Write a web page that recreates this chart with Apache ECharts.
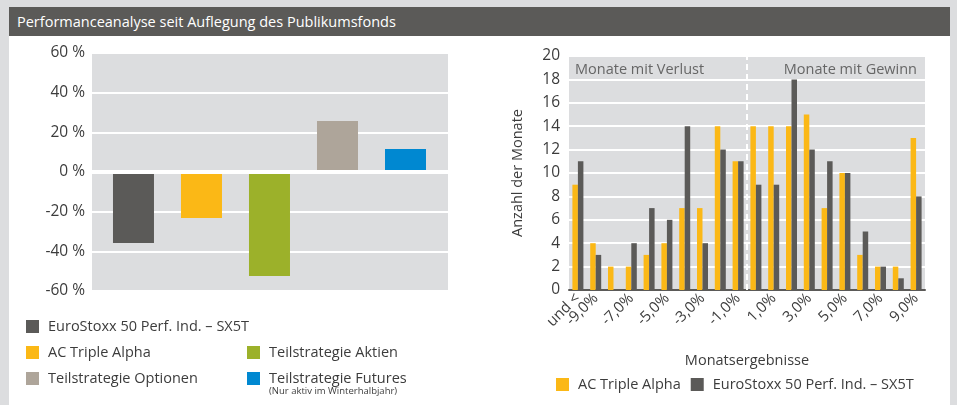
<!DOCTYPE html>
<html>
<head>
<meta charset="utf-8">
<script src="https://cdn.jsdelivr.net/npm/echarts@6/dist/echarts.min.js"></script>
<style>
  body { margin: 0; background: #dcdddf; font-family: "Open Sans", sans-serif; }
  #frame { position: absolute; left: 9px; top: 7px; width: 941px; height: 398px; background: #fff; }
  #kopf { position: absolute; left: 0; top: 0; width: 941px; height: 29px; background: #5b5a58;
          color: #fff; font-size: 14.5px; line-height: 29px; padding-left: 8px; box-sizing: border-box; }
  #chart { position: absolute; left: 0; top: 0; width: 957px; height: 405px; }
</style>
</head>
<body>
<div id="frame"><div id="kopf">Performanceanalyse seit Auflegung des Publikumsfonds</div></div>
<div id="chart"></div>
<script>
// --- Linkes Diagramm: Performance seit Auflegung (in %) ---
const perfNamen = [
    "EuroStoxx 50 Perf. Ind. – SX5T",
    "AC Triple Alpha",
    "Teilstrategie Aktien",
    "Teilstrategie Optionen",
    "Teilstrategie Futures"
];
const perfWerte = [-35.8, -23.2, -52.4, 25.7, 11.6];
const perfFarben = ["#5b5a58", "#fbb816", "#9cb12a", "#aea59a", "#0088d1"];

// --- Rechtes Diagramm: Verteilung der Monatsergebnisse ---
const monatsKlassen = [
    "und <", "-9,0%", "-8,0%", "-7,0%", "-6,0%", "-5,0%", "-4,0%", "-3,0%", "-2,0%", "-1,0%",
    "0,0%", "1,0%", "2,0%", "3,0%", "4,0%", "5,0%", "6,0%", "7,0%", "8,0%", "9,0%"
];
const monateFonds = [9, 4, 2, 2, 3, 4, 7, 7, 14, 11, 14, 14, 14, 15, 7, 10, 3, 2, 2, 13];
const monateIndex = [11, 3, 0, 4, 7, 6, 14, 4, 12, 11, 9, 9, 18, 12, 11, 10, 5, 2, 1, 8];

const schrift = "Open Sans";
const textFarbe = "#3c3c3c";

var myChart = echarts.init(document.getElementById("chart"));

// Balken links: jede Reihe an eigener Position, alle übereinander (barGap -100%)
const perfSerien = perfNamen.map((name, i) => ({
    name: name,
    type: "bar",
    xAxisIndex: 0,
    yAxisIndex: 0,
    barWidth: 41,
    barGap: "-100%",
    itemStyle: { color: perfFarben[i] },
    data: [[i, perfWerte[i]]]
}));
// weiße Nulllinie über den Balken
perfSerien[perfSerien.length - 1].markLine = {
    silent: true,
    symbol: "none",
    label: { show: false },
    lineStyle: { color: "#ffffff", width: 4, type: "solid" },
    data: [{ yAxis: 0 }]
};

const legendeBasis = {
    padding: 0,
    itemWidth: 13,
    itemHeight: 13,
    icon: "rect",
    selectedMode: false,
    textStyle: { fontSize: 14.5, color: textFarbe, padding: [0, 0, 0, 4] }
};

myChart.setOption({
    animation: false,
    textStyle: { fontFamily: schrift },
    grid: [
        { left: 92, top: 53, width: 356, height: 238, show: true, backgroundColor: "#dcdddf", borderWidth: 0 },
        { left: 569, top: 56, width: 356, height: 234, show: true, backgroundColor: "#dcdddf", borderWidth: 0 }
    ],
    xAxis: [
        { gridIndex: 0, type: "value", min: -0.61, max: 4.625, show: false },
        {
            gridIndex: 1,
            type: "category",
            data: monatsKlassen,
            axisLine: { lineStyle: { color: "#5b5a58", width: 2 } },
            axisTick: { show: false },
            axisLabel: {
                rotate: 45,
                fontSize: 15,
                color: textFarbe,
                margin: 6,
                interval: 0,
                // nur "und <" und jede zweite Klasse beschriften
                formatter: (v, i) => (i === 0 || i % 2 === 1) ? v : ""
            },
            name: "Monatsergebnisse",
            nameLocation: "middle",
            nameGap: 63,
            nameTextStyle: { fontSize: 14.5, color: textFarbe }
        },
        { gridIndex: 1, type: "value", min: 0, max: 20, show: false }
    ],
    yAxis: [
        {
            gridIndex: 0,
            type: "value",
            min: -60,
            max: 60,
            interval: 20,
            axisLine: { show: false },
            axisTick: { show: false },
            axisLabel: { formatter: "{value} %", fontSize: 15.5, color: textFarbe, margin: 7 },
            splitLine: { lineStyle: { color: "#ffffff", width: 2 } }
        },
        {
            gridIndex: 1,
            type: "value",
            min: 0,
            max: 20,
            interval: 2,
            axisLine: { show: false },
            axisTick: { show: false },
            axisLabel: { fontSize: 15.5, color: textFarbe, margin: 9 },
            splitLine: { lineStyle: { color: "#ffffff", width: 2 } },
            name: "Anzahl der Monate",
            nameLocation: "middle",
            nameGap: 44,
            nameTextStyle: { fontSize: 14.5, color: textFarbe }
        }
    ],
    legend: [
        Object.assign({}, legendeBasis, { left: 26, top: 319, data: [perfNamen[0]] }),
        Object.assign({}, legendeBasis, {
            left: 26, top: 345, orient: "vertical", itemGap: 11,
            data: [perfNamen[1], perfNamen[3]]
        }),
        Object.assign({}, legendeBasis, {
            left: 247, top: 345, orient: "vertical", itemGap: 11,
            data: [perfNamen[2], perfNamen[4]]
        }),
        Object.assign({}, legendeBasis, {
            left: 556, top: 377, itemGap: 10,
            data: ["AC Triple Alpha", "EuroStoxx 50 Perf. Ind. – SX5T"]
        })
    ],
    graphic: [
        {
            type: "text", left: 269, top: 386, silent: true,
            style: { text: "(Nur aktiv im Winterhalbjahr)", fontSize: 9.5, fill: textFarbe, fontFamily: schrift }
        },
        {
            type: "text", left: 575, top: 62, z: 100, silent: true,
            style: { text: "Monate mit Verlust", fontSize: 14.5, fill: "#666666", fontFamily: schrift }
        },
        {
            type: "text", right: 40, top: 62, z: 100, silent: true,
            style: { text: "Monate mit Gewinn", fontSize: 14.5, fill: "#666666", fontFamily: schrift }
        }
    ],
    series: perfSerien.concat([
        {
            name: "AC Triple Alpha",
            type: "bar",
            xAxisIndex: 1,
            yAxisIndex: 1,
            barWidth: 5.5,
            barGap: "0%",
            itemStyle: { color: "#fbb816" },
            data: monateFonds
        },
        {
            name: "EuroStoxx 50 Perf. Ind. – SX5T",
            type: "bar",
            xAxisIndex: 1,
            yAxisIndex: 1,
            barWidth: 5.5,
            barGap: "0%",
            itemStyle: { color: "#5b5a58" },
            data: monateIndex
        },
        {
            // Trennlinie zwischen Verlust- und Gewinnmonaten
            type: "line",
            xAxisIndex: 2,
            yAxisIndex: 1,
            symbol: "none",
            silent: true,
            lineStyle: { opacity: 0 },
            data: [[10, 0]],
            markLine: {
                silent: true,
                symbol: "none",
                label: { show: false },
                lineStyle: { color: "#ffffff", width: 2, type: [6, 4] },
                data: [{ xAxis: 10 }]
            }
        }
    ])
});
</script>
</body>
</html>
